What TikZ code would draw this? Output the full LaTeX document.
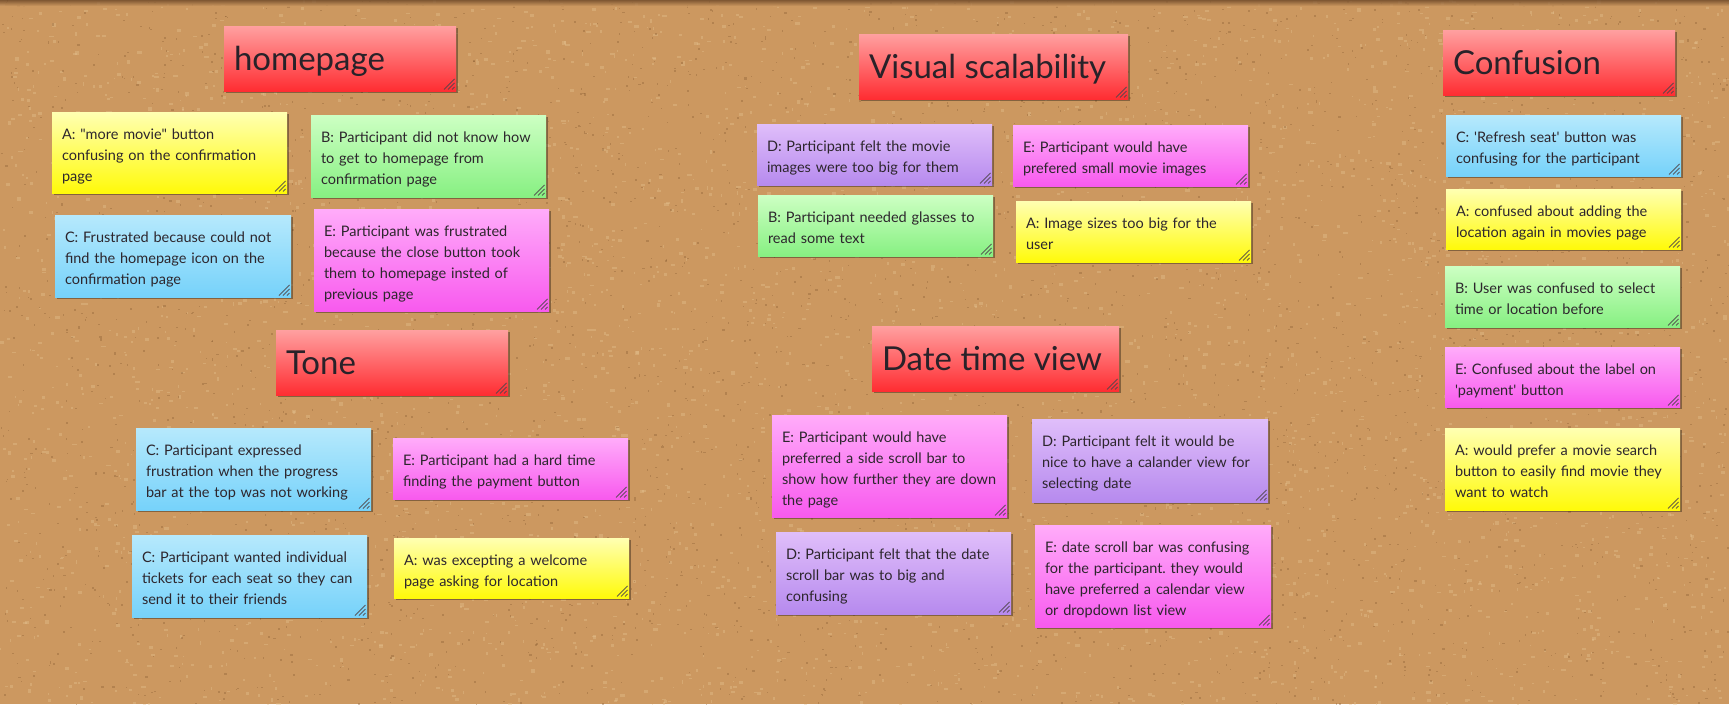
\documentclass[tikz,border=0pt]{standalone}
\usepackage{fontspec}
\newfontfamily\notefont{Lato}
\frenchspacing

% board and note colours
\definecolor{corkbase}{RGB}{204,152,96}
\definecolor{corklight}{RGB}{232,198,150}
\definecolor{corkdark}{RGB}{135,90,48}
\definecolor{corkedge}{RGB}{110,72,40}
\definecolor{ytop}{RGB}{255,255,178}
\definecolor{ybot}{RGB}{255,250,10}
\definecolor{gtop}{RGB}{205,255,195}
\definecolor{gbot}{RGB}{135,240,130}
\definecolor{btop}{RGB}{182,233,252}
\definecolor{bbot}{RGB}{118,210,250}
\definecolor{ptop}{RGB}{255,172,250}
\definecolor{pbot}{RGB}{248,90,238}
\definecolor{vtop}{RGB}{224,190,250}
\definecolor{vbot}{RGB}{182,138,238}
\definecolor{rtop}{RGB}{255,160,160}
\definecolor{rbot}{RGB}{255,45,50}
\definecolor{inktext}{RGB}{45,38,45}
\definecolor{hatchc}{RGB}{80,70,75}

\tikzset{
  notebox/.style={inner sep=0pt, outer sep=0pt, draw=none},
  yellownote/.style={top color=ytop, bottom color=ybot},
  greennote/.style={top color=gtop, bottom color=gbot},
  bluenote/.style={top color=btop, bottom color=bbot},
  pinknote/.style={top color=ptop, bottom color=pbot},
  violetnote/.style={top color=vtop, bottom color=vbot},
  rednote/.style={top color=rtop, bottom color=rbot},
  notetext/.style={inner sep=0pt, outer sep=0pt, align=left, text width=220pt,
    text=inktext, font=\notefont\fontsize{14.5}{21}\selectfont},
  headtext/.style={inner sep=0pt, outer sep=0pt, text=inktext!90!black,
    font=\notefont\fontsize{33}{40}\selectfont},
  hatchline/.style={draw=hatchc, line width=0.8pt, opacity=0.85},
  shadowbox/.style={fill=black, opacity=0.35},
}

% a sticky note: name, colour style, x1, y1, x2, y2, text
\newcommand{\stickynote}[7]{%
  \fill[shadowbox] (#3+1.5,#4+2) rectangle (#5+1.5,#6+2);
  \node[notebox,#2, minimum width={#5-#3}, minimum height={#6-#4}, anchor=north west] (#1) at (#3,#4) {};
  \node[notetext, anchor=north west] (#1-t) at ([xshift=10pt,yshift=-12.3pt]#1.north west) {\strut #7};
  \foreach \d in {4,8,12}
    \draw[hatchline] ([xshift=-\d pt, yshift=1.5pt]#1.south east) -- ([xshift=-1.5pt,yshift=\d pt]#1.south east);
}
% a group heading: name, x1, y1, x2, y2, text
\newcommand{\headnote}[6]{%
  \fill[shadowbox] (#2+1.5,#3+2) rectangle (#4+1.5,#5+2);
  \node[notebox,rednote, minimum width={#4-#2}, minimum height={#5-#3}, anchor=north west] (#1) at (#2,#3) {};
  \node[headtext, anchor=base west] (#1-t) at ([xshift=10pt,yshift=-44pt]#1.north west) {#6};
  \foreach \d in {4,8,12}
    \draw[hatchline] ([xshift=-\d pt, yshift=1.5pt]#1.south east) -- ([xshift=-1.5pt,yshift=\d pt]#1.south east);
}

\begin{document}
\begin{tikzpicture}[x=1pt, y=-1pt]
\useasboundingbox (0,0) rectangle (1729,704);

% cork board: base colour with light granules and dark flecks
\fill[corkbase] (0,0) rectangle (1729,704);
\pgfmathsetseed{4711}
\foreach \i in {1,...,4200}{
  \pgfmathsetmacro{\px}{rnd*1729}
  \pgfmathsetmacro{\py}{rnd*704}
  \pgfmathsetmacro{\pw}{1+rnd*3.5}
  \pgfmathsetmacro{\ph}{1+rnd*2.5}
  \fill[corklight, opacity=0.35] (\px,\py) rectangle ++(\pw,\ph);
}
\foreach \i in {1,...,3600}{
  \pgfmathsetmacro{\px}{rnd*1729}
  \pgfmathsetmacro{\py}{rnd*704}
  \pgfmathsetmacro{\pw}{0.8+rnd*1.8}
  \pgfmathsetmacro{\ph}{0.8+rnd*1.4}
  \fill[corkdark, opacity=0.35] (\px,\py) rectangle ++(\pw,\ph);
}
\shade[top color=corkedge, bottom color=corkbase, opacity=0.8] (0,0) rectangle (1729,6);

% homepage
\headnote{hhome}{224}{26}{456}{91}{homepage}
\stickynote{h1}{yellownote}{52}{112}{287}{193}{A: "more movie" button\\confusing on the confirmation\\page}
\stickynote{h2}{greennote}{311}{115}{546}{197}{B: Participant did not know how\\to get to homepage from\\confirmation page}
\stickynote{h3}{bluenote}{55}{215}{291}{297}{C: Frustrated because could not\\find the homepage icon on the\\confirmation page}
\stickynote{h4}{pinknote}{314}{209}{549}{311}{E: Participant was frustrated\\because the close button took\\them to homepage insted of\\previous page}

% tone
\headnote{htone}{276}{330}{508}{395}{Tone}
\stickynote{t1}{bluenote}{136}{428}{371}{510}{C: Participant expressed\\frustration when the progress\\bar at the top was not working}
\stickynote{t2}{pinknote}{393}{438}{628}{499}{E: Participant had a hard time\\finding the payment button}
\stickynote{t3}{bluenote}{132}{535}{367}{617}{C: Participant wanted individual\\tickets for each seat so they can\\send it to their friends}
\stickynote{t4}{yellownote}{394}{538}{629}{598}{A: was excepting a welcome\\page asking for location}

% visual scalability
\headnote{hvis}{859}{34}{1128}{99}{Visual scalability}
\stickynote{v1}{violetnote}{757}{124}{992}{185}{D: Participant felt the movie\\images were too big for them}
\stickynote{v2}{pinknote}{1013}{125}{1248}{186}{E: Participant would have\\prefered small movie images}
\stickynote{v3}{greennote}{758}{195}{993}{256}{B: Participant needed glasses to\\read some text}
\stickynote{v4}{yellownote}{1016}{201}{1251}{262}{A: Image sizes too big for the\\user}

% date time view
\headnote{hdate}{872}{326}{1119}{391}{Date time view}
\stickynote{d1}{pinknote}{772}{415}{1007}{517}{E: Participant would have\\preferred a side scroll bar to\\show how further they are down\\the page}
\stickynote{d2}{violetnote}{1032}{419}{1268}{502}{D: Participant felt it would be\\nice to have a calander view for\\selecting date}
\stickynote{d3}{violetnote}{776}{532}{1011}{614}{D: Participant felt that the date\\scroll bar was to big and\\confusing}
\stickynote{d4}{pinknote}{1035}{525}{1271}{627}{E: date scroll bar was confusing\\for the participant. they would\\have preferred a calendar view\\or dropdown list view}

% confusion
\headnote{hconf}{1443}{30}{1675}{95}{Confusion}
\stickynote{c1}{bluenote}{1446}{115}{1681}{176}{C: 'Refresh seat' button was\\confusing for the participant}
\stickynote{c2}{yellownote}{1446}{189}{1681}{249}{A: confused about adding the\\location again in movies page}
\stickynote{c3}{greennote}{1445}{266}{1680}{327}{B: User was confused to select\\time or location before}
\stickynote{c4}{pinknote}{1445}{347}{1680}{407}{E: Confused about the label on\\'payment' button}
\stickynote{c5}{yellownote}{1445}{428}{1680}{510}{A: would prefer a movie search\\button to easily find movie they\\want to watch}
\end{tikzpicture}
\end{document}
